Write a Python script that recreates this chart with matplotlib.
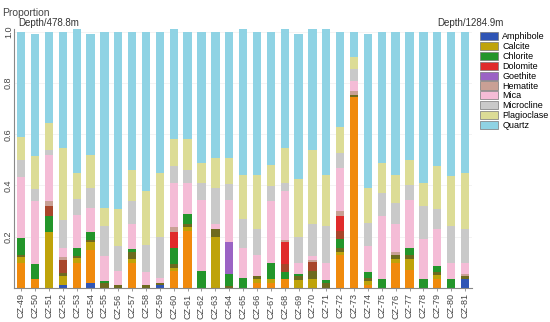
import numpy as np
import matplotlib
matplotlib.use('Agg')
import matplotlib.pyplot as plt
from matplotlib.patches import Patch

plt.rcParams['font.family'] = ['Liberation Sans', 'DejaVu Sans']

samples = ['CZ-%d' % i for i in range(49, 82)]

# 各矿物比例
amphibole = [0, 0, 0, .01, 0, .02, 0, 0, 0, 0, .01, 0, 0, 0, 0, 0, 0,
             0, 0, 0, 0, 0, 0, 0, 0, 0, 0, 0, 0, 0, 0, 0, .035]
orange_part = [.098, .035, 0, 0, .098, .126, 0, 0, .098, 0, 0, .065, .221, 0, 0, 0, 0,
               .02, .02, .033, 0, 0, 0, .13, .746, .013, 0, .098, .07, 0, .033, 0, 0]
calcite = [.022, 0, .219, .035, .019, .032, 0, 0, .015, 0, 0, .013, .017, 0, .2, 0, 0,
           .013, .013, 0, .03, .033, 0, .011, 0, .013, 0, .013, .043, 0, .017, 0, 0]
olive_part = [.009, 0, 0, .013, .006, .01, .02, .01, .027, .013, .01, .016, .013, 0, .03, .009, 0,
              .015, 0, 0, .018, .032, .02, .015, .009, .013, 0, .019, .014, 0, .011, 0, .011]
chlorite = [.067, .06, .061, 0, .033, .031, .006, 0, .01, 0, 0, .062, .038, .065, 0, .046, .04,
            0, .063, .03, .005, 0, .01, .033, 0, .024, .033, 0, .027, .033, .026, .033, 0]
sienna_part = [0, 0, .039, .052, 0, 0, 0, 0, 0, 0, 0, 0, 0, 0, 0, 0, 0,
               0, 0, .032, 0, .035, 0, .032, 0, 0, 0, 0, 0, 0, 0, 0, 0]
dolomite = [0, 0, 0, 0, 0, 0, 0, 0, 0, 0, 0, .063, 0, 0, 0, 0, 0,
            0, 0, .083, 0, 0, 0, .059, 0, 0, 0, 0, 0, 0, 0, 0, 0]
goethite = [0, 0, 0, 0, 0, 0, 0, 0, 0, 0, 0, 0, 0, 0, 0, .123, 0,
            0, 0, 0, 0, 0, 0, 0, 0, 0, 0, 0, 0, 0, 0, 0, 0]
hematite = [0, 0, .02, .01, 0, 0, 0, 0, 0, 0, 0, .019, 0, 0, 0, 0, 0,
            0, 0, .008, 0, .01, 0, .02, .015, 0, 0, .009, 0, 0, 0, 0, .007]
mica = [.239, .245, .18, .036, .127, .094, .098, .055, .101, .05, .02, .172, .121, .28, .02, .167, .116,
        .082, .243, .192, .045, .016, .066, .169, .037, .1, .247, .112, .191, .156, .141, .065, .045]
microcline = [.066, .045, .02, .111, .065, .077, .116, .1, .088, .104, .16, .065, .052, .065, .14, .059, .114,
              .1, .058, .032, .102, .125, .144, .058, .046, .091, .091, .081, .056, .13, .082, .142, .13]
plagioclase = [.09, .13, .106, .28, .101, .13, .073, .144, .123, .211, .249, .105, .118, .078, .118, .104, .169,
               .209, .082, .137, .226, .287, .199, .101, .049, .136, .117, .107, .1, .091, .165, .196, .221]
quartz = [.41, .475, .355, .453, .561, .47, .687, .691, .538, .622, .551, .43, .42, .512, .492, .492, .571,
          .561, .521, .463, .564, .472, .571, .372, .098, .6, .512, .561, .499, .59, .525, .564, .551]

# (数据, 图例名, 颜色)  图例名为 None 的不进图例
layers = [
    (amphibole, 'Amphibole', '#2f55b5'),
    (orange_part, None, '#f08a0c'),
    (calcite, 'Calcite', '#bfa30a'),
    (olive_part, None, '#6e6a1f'),
    (chlorite, 'Chlorite', '#23952a'),
    (sienna_part, None, '#a8462a'),
    (dolomite, 'Dolomite', '#e02b2b'),
    (goethite, 'Goethite', '#9b63c4'),
    (hematite, 'Hematite', '#c9a095'),
    (mica, 'Mica', '#f4bcd6'),
    (microcline, 'Microcline', '#c9c9c9'),
    (plagioclase, 'Plagioclase', '#dcdc96'),
    (quartz, 'Quartz', '#8fd3e4'),
]

fig = plt.figure(figsize=(5.5, 3.22), dpi=100)
ax = fig.add_axes([0.026, 0.106, 0.832, 0.803])

x = np.arange(len(samples))
bottom = np.zeros(len(samples))
for vals, name, col in layers:
    v = np.array(vals)
    ax.bar(x, v, bottom=bottom, width=0.6, color=col, linewidth=0)
    bottom += v

ax.set_xlim(-0.5, len(samples) - 0.5)
ax.set_ylim(0, 1.01)
ax.set_yticks([0.2, 0.4, 0.6, 0.8, 1.0])
ax.set_yticklabels(['0.2', '0.4', '0.6', '0.8', '1.0'], rotation=90, va='center', fontsize=6.5, color='#444')
ax.set_xticks(x)
ax.set_xticklabels(samples, rotation=90, fontsize=6.5, color='#444')
ax.tick_params(axis='x', length=2, width=0.6, color='#888', pad=2)
ax.tick_params(axis='y', length=0, pad=1)
ax.yaxis.grid(True, color='#eeeeee', linewidth=0.5)
ax.set_axisbelow(True)
for s in ['top', 'right']:
    ax.spines[s].set_visible(False)
for s in ['left', 'bottom']:
    ax.spines[s].set_color('#888')
    ax.spines[s].set_linewidth(0.8)

fig.text(0.004, 0.975, 'Proportion', fontsize=7.5, color='#444', va='top')
fig.text(0.033, 0.93, 'Depth/478.8m', fontsize=7, color='#333', va='center')
fig.text(0.795, 0.93, 'Depth/1284.9m', fontsize=7, color='#333', va='center')

handles = [Patch(facecolor=col, edgecolor='#777', linewidth=0.5, label=name)
           for vals, name, col in layers if name is not None]
fig.legend(handles=handles, loc='upper left', bbox_to_anchor=(0.872, 0.9),
           frameon=False, fontsize=6.5, handlelength=2.0, handleheight=1.0,
           labelspacing=0.08, handletextpad=0.5, borderaxespad=0, borderpad=0)

fig.savefig('out.png', dpi=100)
